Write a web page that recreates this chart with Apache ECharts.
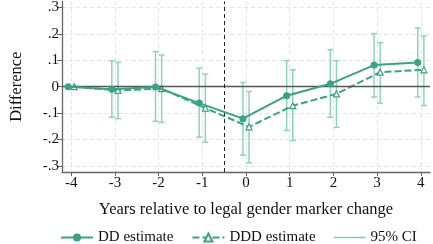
<!DOCTYPE html>
<html>
<head>
<meta charset="utf-8">
<script src="https://cdn.jsdelivr.net/npm/echarts@6/dist/echarts.min.js"></script>
<style>
  html, body { margin: 0; padding: 0; background: #fff; }
  #chart { width: 433px; height: 244px; }
</style>
</head>
<body>
<div id="chart"></div>
<script>
// event-study estimates
const years = [-4, -3, -2, -1, 0, 1, 2, 3, 4];
const ddEst = [0, -0.010, -0.001, -0.062, -0.121, -0.034, 0.011, 0.082, 0.092];
const ddLo = [null, -0.115, -0.131, -0.191, -0.259, -0.166, -0.116, -0.039, -0.039];
const ddHi = [null, 0.098, 0.133, 0.070, 0.016, 0.099, 0.140, 0.201, 0.222];
const dddEst = [0, -0.014, -0.007, -0.081, -0.152, -0.072, -0.027, 0.055, 0.064];
const dddLo = [null, -0.121, -0.135, -0.210, -0.288, -0.204, -0.154, -0.062, -0.071];
const dddHi = [null, 0.092, 0.120, 0.048, -0.018, 0.064, 0.098, 0.167, 0.192];
const yTicks = [-0.3, -0.2, -0.1, 0, 0.1, 0.2, 0.3];

const main = '#3aa383';
const ciColor = '#8fd3bb';
const font = 'Liberation Serif';
const shift = 0.07; // DD drawn a bit left, DDD a bit right

function fmtY(v) {
  if (Math.abs(v) < 1e-9) return '0';
  return (v < 0 ? '-' : '') + '.' + Math.round(Math.abs(v) * 10);
}

function pts(est, dx) {
  return years.map((x, i) => [x + dx, est[i]]);
}
function bars(lo, hi, dx) {
  const out = [];
  years.forEach((x, i) => {
    if (lo[i] != null) out.push([x + dx, lo[i], hi[i]]);
  });
  return out;
}

function errBar(params, api) {
  const lo = api.coord([api.value(0), api.value(1)]);
  const hi = api.coord([api.value(0), api.value(2)]);
  const w = 3;
  const style = { stroke: ciColor, lineWidth: 1.5 };
  return {
    type: 'group',
    children: [
      { type: 'line', shape: { x1: lo[0], y1: lo[1], x2: hi[0], y2: hi[1] }, style },
      { type: 'line', shape: { x1: lo[0] - w, y1: lo[1], x2: lo[0] + w, y2: lo[1] }, style },
      { type: 'line', shape: { x1: hi[0] - w, y1: hi[1], x2: hi[0] + w, y2: hi[1] }, style }
    ]
  };
}

const chart = echarts.init(document.getElementById('chart'));

const option = {
  animation: false,
  textStyle: { fontFamily: font },
  grid: { left: 53, right: 3, top: 1, bottom: 72 },
  legend: {
    bottom: -1,
    left: 60,
    padding: 0,
    itemWidth: 32,
    itemHeight: 10,
    itemGap: 18,
    textStyle: { fontFamily: font, fontSize: 15, color: '#111' },
    data: [
      'DD estimate',
      'DDD estimate',
      { name: '95% CI', icon: 'path://M0,0H32V1.5H0Z', itemStyle: { color: '#7fcab0' } }
    ]
  },
  xAxis: {
    type: 'value',
    min: -4.21,
    max: 4.21,
    name: 'Years relative to legal gender marker change',
    nameLocation: 'middle',
    nameGap: 29,
    nameTextStyle: { fontFamily: font, fontSize: 16.5, color: '#111' },
    axisLine: { onZero: false, lineStyle: { color: '#666', width: 1.3 } },
    axisTick: { customValues: years, length: 4, lineStyle: { color: '#666' } },
    axisLabel: {
      customValues: years,
      fontFamily: font, fontSize: 15, color: '#111', margin: 4
    },
    splitLine: { show: true, lineStyle: { color: '#e4e4e4', type: [4, 3] } }
  },
  yAxis: {
    type: 'value',
    min: -0.323,
    max: 0.323,
    name: 'Difference',
    nameLocation: 'middle',
    nameGap: 37,
    nameRotate: 90,
    nameTextStyle: { fontFamily: font, fontSize: 16.5, color: '#111' },
    axisLine: { show: true, onZero: false, lineStyle: { color: '#666', width: 1.3 } },
    axisTick: { show: true, customValues: yTicks, length: 5, lineStyle: { color: '#666' } },
    axisLabel: {
      customValues: yTicks,
      formatter: fmtY,
      fontFamily: font, fontSize: 15, color: '#111', margin: 3
    },
    splitLine: { show: true, lineStyle: { color: '#e4e4e4', type: [4, 3] } }
  },
  series: [
    {
      name: '95% CI',
      type: 'line',
      data: [],
      symbol: 'none',
      itemStyle: { color: '#7fcab0' },
      lineStyle: { color: '#7fcab0', width: 1 }
    },
    {
      name: 'ci-dd',
      type: 'custom',
      renderItem: errBar,
      data: bars(ddLo, ddHi, -shift),
      z: 2,
      markLine: {
        silent: true,
        symbol: 'none',
        label: { show: false },
        data: [
          { yAxis: 0, lineStyle: { color: '#555', width: 1.3, type: 'solid' } },
          { xAxis: -0.5, lineStyle: { color: '#222', width: 1, type: [4, 3] } }
        ]
      }
    },
    {
      name: 'ci-ddd',
      type: 'custom',
      renderItem: errBar,
      data: bars(dddLo, dddHi, shift),
      z: 2
    },
    {
      name: 'DDD estimate',
      type: 'line',
      data: pts(dddEst, shift),
      symbol: 'triangle',
      symbolSize: 6,
      itemStyle: { color: '#fff', borderColor: main, borderWidth: 1.2 },
      lineStyle: { color: main, width: 2, type: [7, 3] },
      z: 4
    },
    {
      name: 'DD estimate',
      type: 'line',
      data: pts(ddEst, -shift),
      symbol: 'circle',
      symbolSize: 7,
      itemStyle: { color: main },
      lineStyle: { color: main, width: 2 },
      z: 5
    }
  ]
};

chart.setOption(option);
</script>
</body>
</html>
